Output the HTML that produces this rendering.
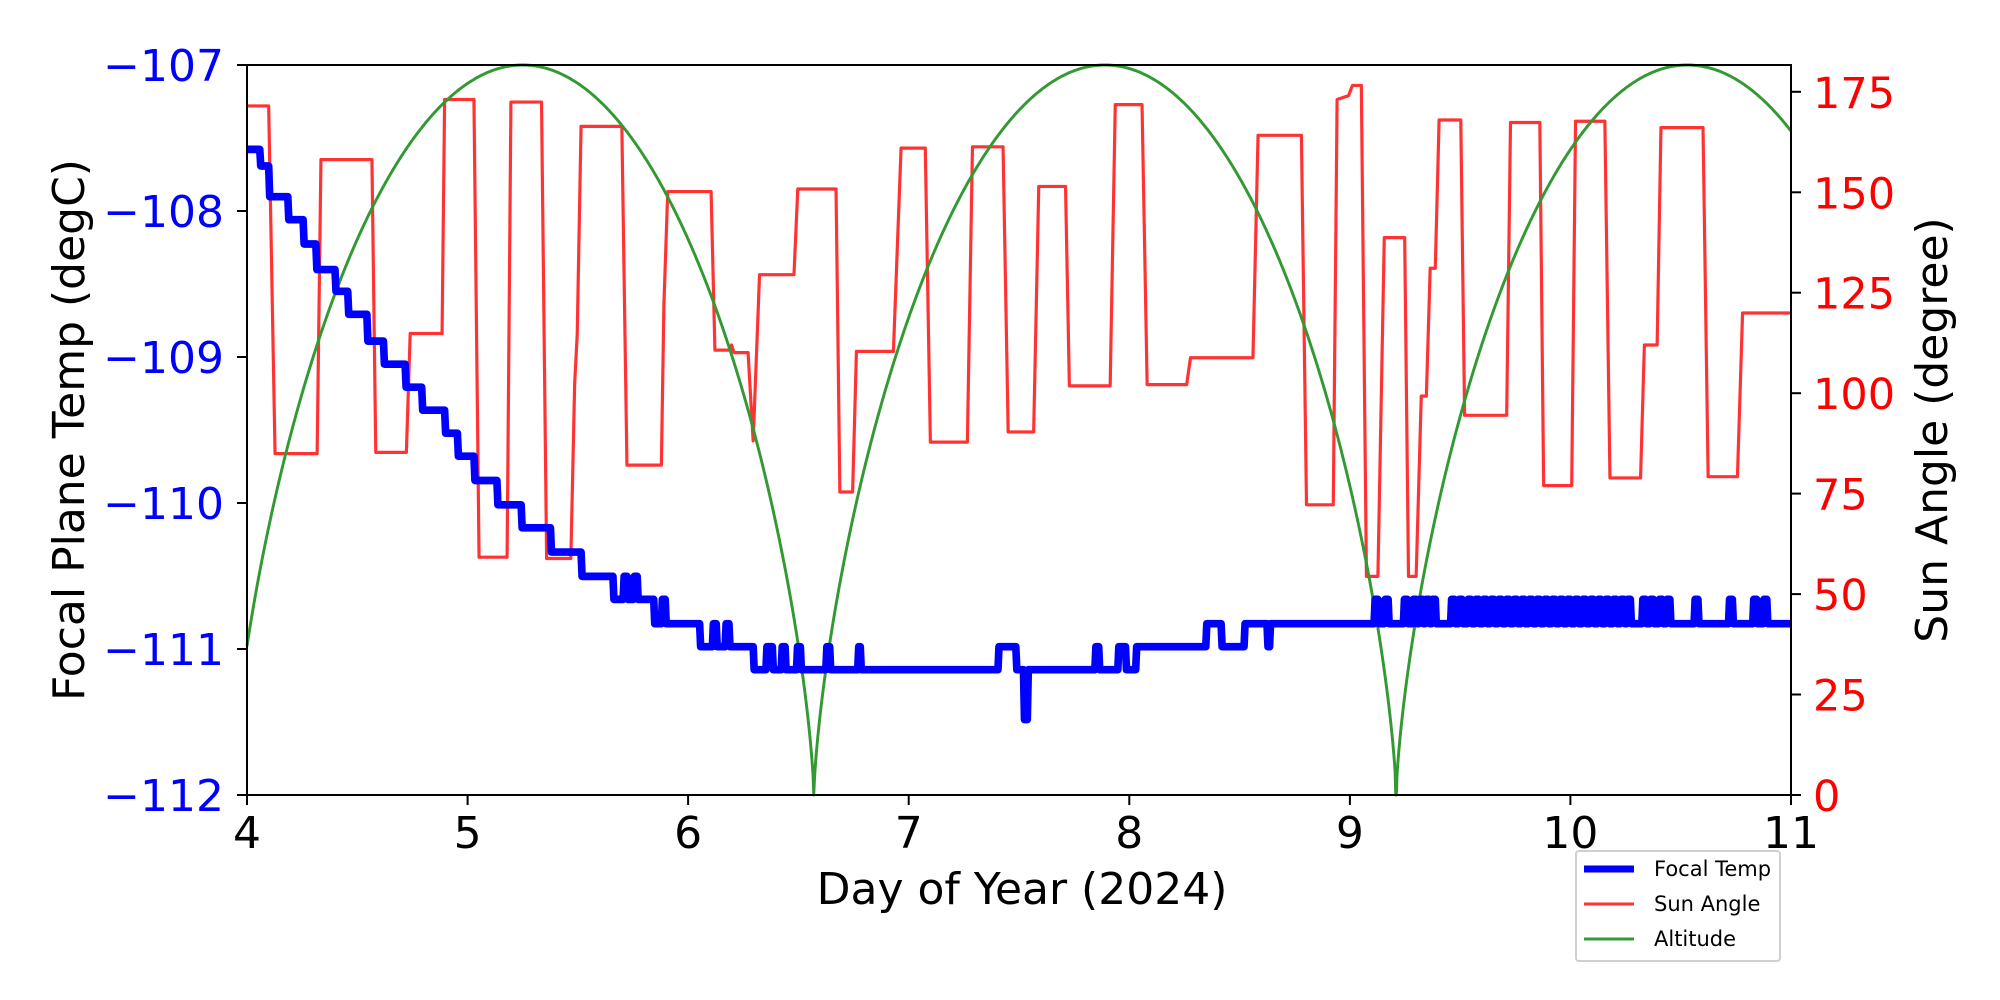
<!DOCTYPE html>
<html><head><meta charset="utf-8"><style>
html,body{margin:0;padding:0;background:#fff;}
svg{display:block;font-family:"DejaVu Sans","Liberation Sans",sans-serif;}
</style></head><body>
<svg width="2000" height="1000" viewBox="0 0 2000 1000" xmlns="http://www.w3.org/2000/svg">
<rect width="2000" height="1000" fill="#fff"/>
<g transform="translate(247,65) scale(1.27498,1.27846) translate(-193,-51)"><g id="plot"></g></g>
<rect x="247" y="65" width="1544" height="730" fill="none" stroke="#000" stroke-width="2"/>
<g stroke="#000" stroke-width="2">
<line x1="237" y1="65" x2="247" y2="65"/><line x1="237" y1="211" x2="247" y2="211"/><line x1="237" y1="357" x2="247" y2="357"/>
<line x1="237" y1="503" x2="247" y2="503"/><line x1="237" y1="649" x2="247" y2="649"/><line x1="237" y1="795" x2="247" y2="795"/>
<line x1="1791" y1="795" x2="1801" y2="795"/><line x1="1791" y1="694.5" x2="1801" y2="694.5"/><line x1="1791" y1="594.1" x2="1801" y2="594.1"/>
<line x1="1791" y1="493.6" x2="1801" y2="493.6"/><line x1="1791" y1="393.2" x2="1801" y2="393.2"/><line x1="1791" y1="292.7" x2="1801" y2="292.7"/>
<line x1="1791" y1="192.3" x2="1801" y2="192.3"/><line x1="1791" y1="91.8" x2="1801" y2="91.8"/>
<line x1="247" y1="795" x2="247" y2="805"/><line x1="467.6" y1="795" x2="467.6" y2="805"/><line x1="688.1" y1="795" x2="688.1" y2="805"/>
<line x1="908.7" y1="795" x2="908.7" y2="805"/><line x1="1129.3" y1="795" x2="1129.3" y2="805"/><line x1="1349.9" y1="795" x2="1349.9" y2="805"/>
<line x1="1570.4" y1="795" x2="1570.4" y2="805"/><line x1="1791" y1="795" x2="1791" y2="805"/>
</g>
<g font-size="44" fill="#0000ff" text-anchor="end">
<text x="224" y="81">−107</text><text x="224" y="227">−108</text><text x="224" y="373">−109</text>
<text x="224" y="519">−110</text><text x="224" y="665">−111</text><text x="224" y="811">−112</text>
</g>
<g font-size="43" fill="#ff0000" text-anchor="start">
<text x="1813" y="811">0</text><text x="1813" y="710.5">25</text><text x="1813" y="610">50</text><text x="1813" y="509.5">75</text>
<text x="1813" y="409">100</text><text x="1813" y="308.7">125</text><text x="1813" y="208.3">150</text><text x="1813" y="108">175</text>
</g>
<g font-size="44" fill="#000" text-anchor="middle">
<text x="247" y="848">4</text><text x="467.6" y="848">5</text><text x="688.1" y="848">6</text><text x="908.7" y="848">7</text>
<text x="1129.3" y="848">8</text><text x="1349.9" y="848">9</text><text x="1570.4" y="848">10</text><text x="1791" y="848">11</text>
</g>
<text x="1022" y="904" font-size="44" text-anchor="middle">Day of Year (2024)</text>
<text transform="translate(84,430) rotate(-90)" font-size="44" text-anchor="middle">Focal Plane Temp (degC)</text>
<text transform="translate(1947,430) rotate(-90)" font-size="44" text-anchor="middle">Sun Angle (degree)</text>
<rect x="1576" y="851" width="204" height="110" fill="#fff" stroke="#d0d0d0" stroke-width="2" rx="3"/>
<line x1="1584" y1="869" x2="1634" y2="869" stroke="#0000ff" stroke-width="7"/>
<line x1="1584" y1="904" x2="1634" y2="904" stroke="#ff3333" stroke-width="3"/>
<line x1="1584" y1="939" x2="1634" y2="939" stroke="#339933" stroke-width="3"/>
<g font-size="21"><text x="1654" y="876">Focal Temp</text><text x="1654" y="911">Sun Angle</text><text x="1654" y="946">Altitude</text></g>
</svg>
<script>
const g=document.getElementById('plot');
function P(d,c,w){const p=document.createElementNS('http://www.w3.org/2000/svg','path');p.setAttribute('d',d);p.setAttribute('fill','none');p.setAttribute('stroke',c);p.setAttribute('stroke-width',w);p.setAttribute('stroke-linejoin','round');g.appendChild(p);}
const r=[[193,83],[210,83],[215,355],[248,355],[251,125],[291,125],[294,354],[318,354],[321,261],[346,261],[348,78],[371,78],[375,436],[397,436],[400,80],[424,80],[428,437],[447,437],[450,300],[452,262],[455,99],[487,99],[491,364],[518,364],[520,238],[523,150],[557,150],[560,274],[572,274],[573,270],[575,276],[586,276],[590,345],[595,215],[622,215],[625,148],[655,148],[658,385],[668,385],[671,275],[700,275],[706,116],[725,116],[729,346],[758,346],[762,115],[786,115],[790,338],[810,338],[814,146],[835,146],[838,302],[870,302],[874,82],[895,82],[899,301],[930,301],[933,280],[982,280],[986,106],[1020,106],[1024,395],[1045,395],[1048,78],[1057,75],[1060,67],[1067,67],[1071,451],[1080,451],[1085,186],[1101,186],[1104,451],[1110,451],[1114,310],[1118,310],[1121,210],[1125,210],[1128,94],[1145,94],[1148,325],[1181,325],[1184,96],[1207,96],[1210,380],[1232,380],[1235,95],[1258,95],[1262,374],[1286,374],[1289,270],[1299,270],[1302,100],[1335,100],[1339,373],[1362,373],[1366,245],[1404,245]];
P('M'+r.map(p=>p.join(',')).join('L'),'#ff3333',2.5);
let s='';
for(let x=193;x<=1404;x+=0.5){const d=4+(x-193)/173;let ph=((d-5.25)/2.64)%1;if(ph<0)ph+=1;let t=(ph>0.5?ph-1:ph)*2;let h=Math.pow(Math.max(0,1-t*t),0.7);
 if(Math.abs(d-6.57)<0.002||Math.abs(d-9.21)<0.002)h=0;
 s+=(s?'L':'M')+x+','+(622-571*h).toFixed(1);}
P(s,'#339933',2.3);
let y=117, bs='M193,117';
function to(x,ny){bs+='L'+x+','+y+'L'+(x+0.8)+','+ny;y=ny;}
function sp(x,ny,w){const o=y;to(x,ny);to(x+w,o);}
const st=[[203,130],[210,154],[225,172],[237,191],[247,211],[262,228],[272,246],[287,267],[300,285],[317,303],[330,321],[348,339],[358,357],[371,376],[389,395],[408,413],[431,432],[455,451]];
for(const [x,ny] of st) to(x,ny);
to(480,469);sp(488,451,3);sp(496,451,3);
to(512,488);sp(518,469,3);
to(548,506);sp(558,488,3);sp(568,488,3);
to(590,524);sp(600,506,5);sp(612,506,3);sp(624,506,3);sp(647,506,3);sp(672,506,2);
sp(782,506,14);sp(802,563,3);sp(858,506,3);sp(876,506,6);
to(890,506);sp(945,488,12);sp(975,488,18);
to(995,488);
const xs=[1077,1085,1100,1107,1112,1117,1122,1137,1143,1150,1156,1162,1168,1174,1180,1186,1192,1198,1204,1210,1216,1222,1228,1234,1240,1246,1252,1258,1264,1270,1275,1287,1293,1300,1306,1328,1355,1374,1382];
for(const x of xs) sp(x,469,3);
bs+='L1404,'+y;
P(bs,'#0000ff',6);
</script>
</body></html>
